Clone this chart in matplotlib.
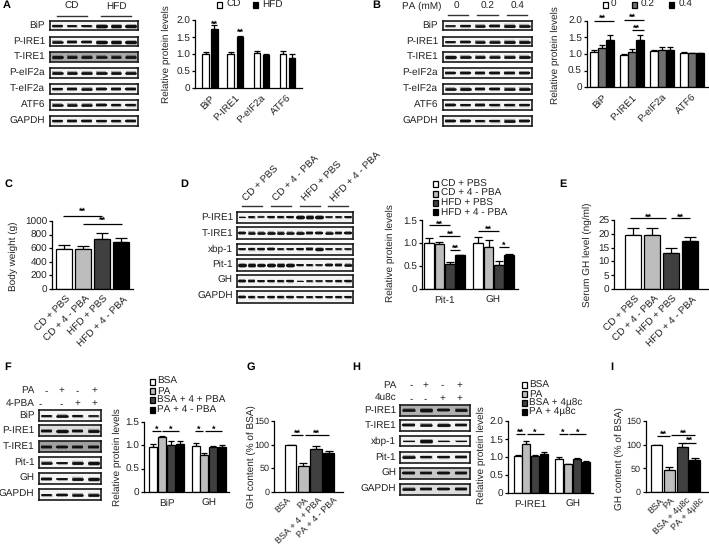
import matplotlib
matplotlib.use('Agg')
import matplotlib.pyplot as plt
from matplotlib.patches import Rectangle

plt.rcParams['font.family'] = ['Liberation Sans', 'DejaVu Sans']
plt.rcParams['text.hinting'] = 'no_hinting'
plt.rcParams['text.hinting_factor'] = 1
W, H = 709, 546
FS = 7.1
TXT = '#222222'
WHITE, LIGHT, DARK, BLACK = '#ffffff', '#bdbdbd', '#404040', '#000000'
MID = '#707070'

# ---------- data ----------
a_groups = ['BiP', 'P-IRE1', 'P-eIF2a', 'ATF6']
a_cd = [1.0, 1.0, 1.02, 1.0]
a_cd_err = [0.06, 0.06, 0.06, 0.1]
a_hfd = [1.75, 1.5, 0.97, 0.89]
a_hfd_err = [0.1, 0.02, 0.03, 0.1]

b_groups = ['BiP', 'P-IRE1', 'P-eIF2a', 'ATF6']
b_0 = [1.07, 0.98, 1.08, 1.04]
b_0_err = [0.04, 0.03, 0.04, 0.03]
b_02 = [1.18, 1.06, 1.12, 1.02]
b_02_err = [0.09, 0.08, 0.09, 0.02]
b_04 = [1.43, 1.42, 1.11, 1.02]
b_04_err = [0.15, 0.14, 0.09, 0.01]

treat = ['CD + PBS', 'CD + 4 - PBA', 'HFD + PBS', 'HFD + 4 - PBA']
c_weight = [590, 585, 730, 695]
c_err = [60, 50, 95, 60]

d_groups = ['Pit-1', 'GH']
d_s1, d_s1e = [1.0, 1.0], [0.1, 0.14]
d_s2, d_s2e = [0.97, 0.91], [0.06, 0.15]
d_s3, d_s3e = [0.55, 0.52], [0.03, 0.09]
d_s4, d_s4e = [0.73, 0.73], [0.01, 0.04]

e_gh = [19.5, 19.7, 13.0, 17.5]
e_err = [2.5, 2.5, 1.7, 1.4]

f_groups = ['BiP', 'GH']
f_legend = ['BSA', 'PA', 'BSA + 4 + PBA', 'PA + 4 - PBA']
f_s1, f_s1e = [0.97, 0.98], [0.05, 0.07]
f_s2, f_s2e = [1.18, 0.80], [0.01, 0.04]
f_s3, f_s3e = [1.00, 0.95], [0.09, 0.03]
f_s4, f_s4e = [1.03, 0.96], [0.05, 0.04]

g_labels = ['BSA', 'PA', 'BSA + 4 + PBA', 'PA + 4 - PBA']
g_vals = [100, 54, 90, 83]
g_err = [0, 7, 8, 4]

h_groups = ['P-IRE1', 'GH']
h_legend = ['BSA', 'PA', 'BSA + 4µ8c', 'PA + 4µ8c']
h_s1, h_s1e = [1.03, 0.94], [0.03, 0.07]
h_s2, h_s2e = [1.36, 0.80], [0.09, 0.02]
h_s3, h_s3e = [1.04, 0.94], [0.01, 0.05]
h_s4, h_s4e = [1.08, 0.87], [0.06, 0.01]

i_vals = [100, 46, 95, 67]
i_err = [0, 6, 8, 5]

# band strengths per blot row
blot_a = {
    'BiP':     [.6, .5, .5, 1, .95, .95],
    'P-IRE1':  [.75, .7, .65, .95, .95, .95],
    'T-IRE1':  [.9, .8, .8, .75, .75, .8],
    'P-eIF2a': [.8, .8, .8, .8, .8, .8],
    'T-eIF2a': [.6, .7, .75, .7, .7, .7],
    'ATF6':    [.75, .75, .75, .7, .6, .6],
    'GAPDH':   [.6, .65, .65, .6, .6, .65],
}
blot_b = {
    'BiP':     [.4, .6, .75, .7, .85, .8],
    'P-IRE1':  [.5, .65, .75, .75, .85, .85],
    'T-IRE1':  [.9, .8, .8, .75, .8, .85],
    'P-eIF2a': [.65, .7, .7, .7, .7, .7],
    'T-eIF2a': [.75, .85, .7, .7, .75, .8],
    'ATF6':    [.7, .55, .7, .6, .6, .6],
    'GAPDH':   [.7, .7, .55, .6, .8, .7],
}
blot_d = {
    'P-IRE1': [.2, .5, .35, .55, .55, .55, 1, 1, 1, .4, .45, .5],
    'T-IRE1': [.7, .75, .75, .8, .8, .75, .8, .7, .7, .75, .65, .7],
    'xbp-1':  [.5, .6, .6, .65, .45, .45, .55, .7, .9, .45, .4, .4],
    'Pit-1':  [1, 1, .9, 1, 1, 1, .5, .5, .4, .7, .7, .75],
    'GH':     [.7, .65, .5, .55, .55, .6, .15, .4, .4, .45, .55, .6],
    'GAPDH':  [.65, .6, .45, .6, .6, .6, .45, .5, .5, .5, .55, .55],
}
blot_f = {
    'BiP':    [.5, .8, .55, .4],
    'P-IRE1': [.7, .9, .7, .85],
    'T-IRE1': [.7, .7, .7, .7],
    'Pit-1':  [.75, .5, .85, .95],
    'GH':     [.7, .5, .85, .9],
    'GAPDH':  [.5, .65, .75, .8],
}
blot_h = {
    'P-IRE1': [.75, 1, .7, .8],
    'T-IRE1': [.7, .75, .85, .65],
    'xbp-1':  [.2, 1, .2, .2],
    'Pit-1':  [.8, .6, .6, .65],
    'GH':     [.7, .65, .7, .7],
    'GAPDH':  [.75, .65, .65, .7],
}

# ---------- helpers ----------
fig = plt.figure(figsize=(W / 100, H / 100), dpi=100)

ov = fig.add_axes([0, 0, 1, 1], zorder=20)
ov.set_xlim(0, W)
ov.set_ylim(H, 0)
ov.axis('off')
ov.patch.set_alpha(0)


def px_axes(x0, x1, ytop, ybot, **kw):
    return fig.add_axes([x0 / W, 1 - ybot / H, (x1 - x0) / W, (ybot - ytop) / H], **kw)


def text(x, y, s, ha='left', va='center', size=FS, rot=0, **kw):
    ov.text(x, y, s, ha=ha, va=va, fontsize=size, rotation=rot, color=TXT,
            rotation_mode='anchor', **kw)


def chart(box, ymax, yticks, ylabels, centers, width, series, colors,
          glabels, gcenters, rot=45, ylab=None, ylabxy=None, tick_fs=FS, xfs=FS, xpad=4):
    x0, x1, ytop, ybot = box
    ax = px_axes(x0, x1, ytop, ybot)
    ax.patch.set_alpha(0)
    ax.set_xlim(x0, x1)
    ax.set_ylim(0, ymax)
    for sp in ('top', 'right'):
        ax.spines[sp].set_visible(False)
    for sp in ('left', 'bottom'):
        ax.spines[sp].set_linewidth(0.9)
    for cs, (vals, errs), col in zip(centers, series, colors):
        ax.bar(cs, vals, width=width, color=col, edgecolor='black', linewidth=0.9, zorder=2)
        ax.errorbar(cs, vals, yerr=[[0] * len(vals), errs], fmt='none', ecolor='black',
                    elinewidth=0.9, capsize=width * 0.28, capthick=0.9, zorder=1)
    ax.set_yticks(yticks)
    ax.set_yticklabels(ylabels, fontsize=tick_fs, color=TXT)
    ax.set_xticks(gcenters)
    if rot:
        ax.set_xticklabels(glabels, fontsize=xfs, color=TXT, rotation=rot, ha='right',
                           rotation_mode='anchor')
    else:
        ax.set_xticklabels(glabels, fontsize=xfs, color=TXT)
    ax.tick_params(axis='y', length=2.2, width=0.9, pad=1.2)
    ax.tick_params(axis='x', length=0, pad=xpad if rot else 5)
    text(ylabxy[0], ylabxy[1], ylab, ha='center', rot=90, size=FS)
    return ax


def blot(rows, x0, x1, ys, label_x, height, grey=None):
    for (name, strengths), ytop in zip(rows.items(), ys):
        ax = px_axes(x0, x1, ytop, ytop + height)
        ax.set_xlim(0, len(strengths))
        ax.set_ylim(0, 1)
        ax.set_xticks([])
        ax.set_yticks([])
        for sp in ax.spines.values():
            sp.set_linewidth(1.2)
            sp.set_color('#1a1a1a')
        ax.set_facecolor((grey or {}).get(name, '#f4f4f4'))
        for i, s in enumerate(strengths):
            ax.plot([i + 0.16, i + 0.84], [0.5, 0.5], color='black', alpha=0.3,
                    lw=0.8 + 2.8 * s, solid_capstyle='butt')
            ax.plot([i + 0.2, i + 0.8], [0.5, 0.5], color='#111111',
                    lw=0.5 + 1.8 * s, solid_capstyle='round')
        text(label_x, ytop + height / 2, name, ha='right')


def legend_v(x, tx, ys, labels, colors, size=FS):
    for y, lab, c in zip(ys, labels, colors):
        ov.add_patch(Rectangle((x - 2.5, y - 3), 5, 6, fc=c, ec='black', lw=0.9))
        text(tx, y, lab, size=size)


def sig(x0, x1, y, star_x, star, star_y):
    ov.plot([x0, x1], [y, y], color='black', lw=0.9, solid_capstyle='butt')
    ov.text(star_x, star_y + 1.5, star, ha='center', va='center', fontsize=6.8,
            fontweight='bold', color='black')


def header_line(x0, x1, y):
    ov.plot([x0, x1], [y, y], color='#333333', lw=1.0)


# ---------- panel letters ----------
for (x, y, s) in [(7, 5, 'A'), (376, 5, 'B'), (9, 184, 'C'), (184, 184, 'D'), (563, 184, 'E'),
                  (8, 367, 'F'), (250.5, 367, 'G'), (356, 367, 'H'), (611.5, 367, 'I')]:
    ov.text(x, y, s, ha='center', va='center', fontsize=8.2, fontweight='bold', color='black')

# ---------- A ----------
blot(blot_a, 50, 138, [20.7, 36.7, 52, 68, 84, 100, 116], 45, 9.7, {'T-IRE1': '#a8a8a8'})
text(72, 6, 'CD', ha='center')
text(116, 6, 'HFD', ha='center')
header_line(57.3, 87.3, 15.7)
header_line(101, 131, 15.7)
chart((195, 302, 20, 88), 2.0, [0, .5, 1, 1.5, 2], ['0', '0.5', '1.0', '1.5', '2.0'],
      [[205.7, 230.7, 257, 283], [214.3, 240, 266, 292]], 6.7,
      [(a_cd, a_cd_err), (a_hfd, a_hfd_err)], [WHITE, BLACK],
      a_groups, [210, 235.3, 261.5, 287.5], ylab='Relative protein levels', ylabxy=(166.7, 54))
legend_v(219.3, 226.7, [4.5], ['CD'], [WHITE])
legend_v(255.3, 261.7, [4.5], ['HFD'], [BLACK])
sig(214, 214, 23, 214, '**', 23)
sig(240, 240, 31, 240, '**', 31)

# ---------- B ----------
blot(blot_b, 443, 531.7, [20.7, 36.7, 52, 68, 84, 100, 116], 438, 9.7)
text(401.7, 6, 'PA (mM)')
for x, s in [(456.7, '0'), (487.7, '0.2'), (517.3, '0.4')]:
    text(x, 6, s, ha='center')
header_line(447.7, 468.3, 15.3)
header_line(477, 497.7, 15.3)
header_line(506.7, 526.7, 15.3)
chart((586.7, 708, 20.7, 87.3), 2.0, [0, .5, 1, 1.5, 2], ['0', '0.5', '1.0', '1.5', '2.0'],
      [[594, 624, 654, 684], [602, 632, 662, 692], [610, 640, 670, 700]], 8,
      [(b_0, b_0_err), (b_02, b_02_err), (b_04, b_04_err)], [WHITE, MID, BLACK],
      b_groups, [602, 632, 662, 692], ylab='Relative protein levels', ylabxy=(555, 55))
legend_v(605, 611, [4.5], ['0'], [WHITE])
legend_v(634.3, 640.7, [4.5], ['0.2'], [MID])
legend_v(671.7, 678.3, [4.5], ['0.4'], [BLACK])
sig(594.3, 614.3, 20.7, 602, '**', 16.7)
sig(624, 644.3, 20, 632.7, '**', 16)
sig(631.7, 644.3, 30, 636, '**', 26.7)

# ---------- C ----------
chart((52, 133, 221, 289), 1000, [0, 200, 400, 600, 800, 1000],
      ['0', '200', '400', '600', '800', '1000'],
      [[64, 83, 102, 121]], 16, [(c_weight, c_err)], [[WHITE, LIGHT, DARK, BLACK]],
      treat, [66, 85, 104, 123], ylab='Body weight (g)', ylabxy=(13.3, 256.7))
sig(62.7, 102.3, 215.7, 82.3, '**', 210)
sig(82.7, 122.3, 224, 102.3, '**', 219.3)

# ---------- D ----------
blot(blot_d, 237, 353, [211.7, 227.3, 243.7, 259, 275, 291], 233, 11.5)
for x0, x1, s, ax_ in [(241.7, 261.7, treat[0], 248), (270.7, 290.7, treat[1], 278),
                       (299.7, 319.7, treat[2], 307), (328.3, 348.3, treat[3], 335)]:
    header_line(x0, x1, 206)
    text(ax_, 203, s, ha='left', va='bottom', rot=45)
d_cols = [WHITE, LIGHT, DARK, BLACK]
d_x = [[429, 478], [439.3, 488.7], [450, 499], [460, 509]]
chart((422, 518, 220, 289), 1.5, [0, .5, 1, 1.5], ['0', '0.5', '1.0', '1.5'], d_x, 9.3,
      [(d_s1, d_s1e), (d_s2, d_s2e), (d_s3, d_s3e), (d_s4, d_s4e)], d_cols,
      d_groups, [444.5, 493.5], rot=0, ylab='Relative protein levels', ylabxy=(390, 253))
legend_v(435.7, 441, [184, 193.5, 203, 212], treat, d_cols)
sig(429, 450, 225, 439.3, '**', 223)
sig(439, 460.3, 236, 450, '**', 233.3)
sig(450, 460, 250, 455, '**', 246.7)
sig(478.3, 499.3, 231, 488.7, '**', 228.3)
sig(498.7, 509, 247.3, 504, '*', 244.3)

# ---------- E ----------
chart((614, 708, 220, 289), 25, [0, 5, 10, 15, 20, 25], ['0', '5', '10', '15', '20', '25'],
      [[633.3, 652.3, 671.3, 690.3]], 16, [(e_gh, e_err)], [[WHITE, LIGHT, DARK, BLACK]],
      treat, [635, 654, 673, 692], ylab='Serum GH level (ng/ml)', ylabxy=(587.3, 255))
sig(630, 665.7, 217.7, 648.3, '**', 215.7)
sig(670.7, 690, 217.7, 680.7, '**', 215.7)

# ---------- F ----------
blot(blot_f, 38.7, 101, [410, 425, 441, 457, 473, 489], 34.3, 11, {'T-IRE1': '#a0a0a0', 'P-IRE1': '#dddddd'})
text(34.3, 390.7, 'PA', ha='right')
text(34.3, 403.3, '4-PBA', ha='right')
for x, a_, b_ in [(46.7, '-', None), (61, '+', '-'), (77.3, '-', '+'), (94.3, '+', '+')]:
    text(x, 390.7, a_, ha='center')
    if b_:
        text(x, 403.3, b_, ha='center')
text(40, 403.3, '-', ha='center')
chart((144, 229, 421.7, 492), 1.5, [0, .5, 1, 1.5], ['0', '0.5', '1.0', '1.5'],
      [[153.3, 195.7], [162.3, 204.3], [171, 213], [179.7, 221.7]], 8,
      [(f_s1, f_s1e), (f_s2, f_s2e), (f_s3, f_s3e), (f_s4, f_s4e)], d_cols,
      f_groups, [166.5, 208.5], rot=0, ylab='Relative protein levels', ylabxy=(117.3, 456.7))
legend_v(152.7, 157.3, [381.7, 391, 400.3, 409.7], f_legend, d_cols)
sig(152.3, 161, 431, 156.7, '*', 428.3)
sig(162.3, 179.3, 431, 170.7, '*', 428.3)
sig(195, 203.3, 431, 199, '*', 428.3)
sig(205, 221.7, 431, 213.3, '*', 428.3)

# ---------- G ----------
chart((274, 343, 421, 491.7), 150, [0, 50, 100, 150], ['0', '50', '100', '150'],
      [[290.7, 303.3, 316, 328.7]], 11.3, [(g_vals, g_err)], [[WHITE, LIGHT, DARK, BLACK]],
      g_labels, [286, 304, 318, 333], ylab='GH content (% of BSA)', ylabxy=(251, 456.7),
      tick_fs=6.6, xfs=6.8, xpad=3)
sig(290.7, 303.3, 435, 297.3, '**', 432.3)
sig(305, 329.3, 435, 316.7, '**', 432.3)

# ---------- H ----------
blot(blot_h, 400, 469.7, [405, 420, 435.7, 452, 468, 484], 396, 10.7,
     {'P-IRE1': '#b0b0b0', 'GH': '#c8c8c8', 'GAPDH': '#dddddd'})
text(396.7, 385, 'PA', ha='right')
text(396.7, 398.3, '4u8c', ha='right')
for x, a_, b_ in [(411.7, '-', '-'), (425.7, '+', '-'), (442.3, '-', '+'), (459, '+', '+')]:
    text(x, 385, a_, ha='center')
    text(x, 398.3, b_, ha='center')
chart((508, 593, 421.3, 493), 2.0, [0, .5, 1, 1.5, 2], ['0', '0.5', '1.0', '1.5', '2.0'],
      [[517.7, 559.3], [526.3, 568.3], [535, 577.3], [543.7, 585.7]], 8,
      [(h_s1, h_s1e), (h_s2, h_s2e), (h_s3, h_s3e), (h_s4, h_s4e)], d_cols,
      h_groups, [530.7, 572.5], rot=0, ylab='Relative protein levels', ylabxy=(481, 455))
legend_v(524, 529, [385.3, 394.3, 403.3, 412.3], h_legend, d_cols)
sig(516.3, 525, 434.3, 520.7, '**', 431.3)
sig(526.7, 543.7, 434.3, 535, '*', 431.3)
sig(559, 567.7, 434, 563, '*', 431)
sig(569, 585.7, 434, 577.7, '*', 431)

# ---------- I ----------
chart((645.7, 708, 421, 492), 150, [0, 50, 100, 150], ['0', '50', '100', '150'],
      [[656.7, 669.3, 682.3, 694.7]], 11, [(i_vals, i_err)], [[WHITE, LIGHT, DARK, BLACK]],
      h_legend, [659, 670, 686, 700], ylab='GH content (% of BSA)', ylabxy=(619, 459),
      tick_fs=6.8, xfs=6.8, xpad=3)
sig(657.3, 670, 435.7, 663.7, '**', 432.7)
sig(671, 695, 435, 683.3, '**', 432.5)
sig(683.3, 695.7, 443.3, 689.3, '**', 439.3)

fig.savefig('out.png', dpi=100)
